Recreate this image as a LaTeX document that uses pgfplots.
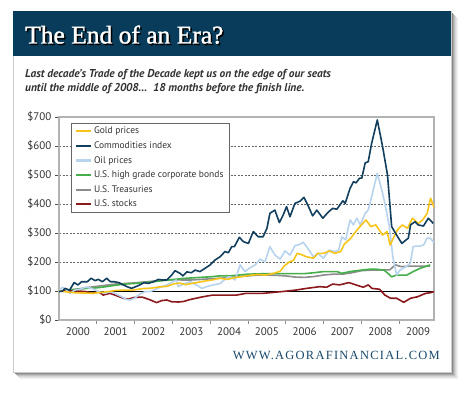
\documentclass[border=0pt]{standalone}
\usepackage{fontspec}
\setmainfont{Liberation Serif}
\newfontfamily\myriad{PT Sans}
\newfontfamily\titlefont[FakeBold=1.3]{Liberation Serif}
\usepackage{pgfplots}
\pgfplotsset{compat=1.18}
\definecolor{navy}{HTML}{083C5A}
\definecolor{goldc}{HTML}{F7C51A}
\definecolor{commc}{HTML}{123F5E}
\definecolor{oilc}{HTML}{B7D3EE}
\definecolor{bondc}{HTML}{46AE4A}
\definecolor{treasc}{HTML}{8C8C8C}
\definecolor{stockc}{HTML}{8C1A1C}
\definecolor{txtc}{HTML}{333333}
\definecolor{urlc}{HTML}{1B4A6B}
\begin{document}
\begin{tikzpicture}
\path[use as bounding box] (0,0) rectangle (470pt,393pt);
\fill[white] (0,0) rectangle (470pt,393pt);
% shadow
\foreach \o/\c in {7/6,6/10,5/16,4/24,3/34,2/46}{
  \fill[black!\c] (13pt+\o pt,21pt-\o pt) rectangle (451pt+\o pt,382pt-\o pt);
}
\fill[white] (13pt,21pt) rectangle (451pt,382pt);
\draw[black!20,line width=0.6pt] (13pt,21pt) rectangle (451pt,382pt);
\fill[navy] (13pt,337pt) rectangle (451pt,382pt);
\node[anchor=base west,inner sep=0pt,text=black] at (26.5pt,348pt) {\titlefont\fontsize{25.5}{26}\selectfont The End of an Era?};
\node[anchor=base west,inner sep=0pt,text=white] at (25pt,349.5pt) {\titlefont\fontsize{25.5}{26}\selectfont The End of an Era?};
\node[anchor=base west,inner sep=0pt,text=txtc,align=left] at (25pt,315pt) {\myriad\bfseries\itshape\fontsize{11.4}{13.5}\selectfont Last decade’s Trade of the Decade kept us on the edge of our seats};
\node[anchor=base west,inner sep=0pt,text=txtc,align=left] at (25pt,301.5pt) {\myriad\bfseries\itshape\fontsize{11.4}{13.5}\selectfont until the middle of 2008\dots\ \ 18 months before the finish line.};
\node[anchor=base east,inner sep=0pt,text=urlc] at (440pt,34pt) {\addfontfeatures{LetterSpace=10}\fontsize{12.5}{12.5}\selectfont WWW.AGORAFINANCIAL.COM};
\begin{axis}[
  at={(59pt,73pt)}, anchor=south west,
  scale only axis, width=375pt, height=203pt,
  xmin=2000, xmax=2009.92, ymin=0, ymax=700,
  axis line style={draw=black!30, line width=1.4pt},
  ytick={0,100,...,700},
  yticklabels={\$0,\$100,\$200,\$300,\$400,\$500,\$600,\$700},
  xtick={2000.5,2001.5,...,2009.5},
  xticklabels={2000,2001,2002,2003,2004,2005,2006,2007,2008,2009},
  minor xtick={2001,2002,...,2009},
  tick align=outside, tick pos=left,
  major tick length=4pt, minor tick length=4pt,
  major x tick style={draw=none},
  minor x tick style={draw=black!45, line width=0.8pt},
  major y tick style={draw=black!70, line width=0.6pt},
  ymajorgrids, grid style={black!60, line width=0.5pt, dash pattern=on 2pt off 1.5pt},
  ticklabel style={font=\myriad\fontsize{11}{11}\selectfont, text=txtc},
  /pgf/number format/assume math mode=true,
  legend style={at={(0.032,0.97)}, anchor=north west, draw=black!60, line width=0.6pt,
    font=\myriad\fontsize{9.5}{10}\selectfont, text=txtc, inner xsep=4pt, inner ysep=2pt,
    nodes={inner sep=1.5pt, text height=7pt, text depth=2pt}, row sep=2.6pt},
  legend cell align=left,
  legend image code/.code={\draw[#1,line width=2.2pt] (0pt,0pt) -- (15pt,0pt);},
  every axis plot/.append style={line width=1.6pt, line join=round},
]
\addplot[black, line width=0.7pt, forget plot] coordinates {(2000,100) (2009.92,100)};
\addplot[treasc, forget plot] coordinates {
(2000.00,100)(2000.25,103)(2000.50,107)(2000.75,112)(2001.00,116)(2001.25,120)(2001.50,124)(2001.75,126)
(2002.00,128)(2002.25,131)(2002.50,134)(2002.75,137)(2003.00,139)(2003.25,138)(2003.50,138)(2003.75,140)
(2004.00,142)(2004.25,144)(2004.50,146)(2004.75,150)(2005.00,152)(2005.25,155)(2005.50,155)(2005.75,154)
(2006.00,152)(2006.25,148)(2006.50,147)(2006.75,150)(2007.00,155)(2007.25,158)(2007.50,158)(2007.75,163)
(2008.00,170)(2008.25,172)(2008.50,172)(2008.75,173)(2008.90,190)(2009.05,184)(2009.30,186)(2009.82,186)};
\addplot[bondc, forget plot] coordinates {
(2000.00,100)(2000.25,103)(2000.50,106)(2000.75,109)(2001.00,111)(2001.25,115)(2001.50,120)(2001.75,124)
(2002.00,126)(2002.25,129)(2002.50,132)(2002.75,136)(2003.00,139)(2003.25,143)(2003.50,145)(2003.75,147)
(2004.00,149)(2004.25,152)(2004.50,152)(2004.75,155)(2005.00,158)(2005.25,159)(2005.50,160)(2005.75,160)
(2006.00,160)(2006.25,160)(2006.50,160)(2006.75,163)(2007.00,167)(2007.20,167)(2007.35,167)(2007.48,161)
(2007.70,167)(2008.00,172)(2008.20,175)(2008.40,175)(2008.60,172)(2008.70,161)(2008.80,149)(2008.93,155)
(2009.20,155)(2009.37,167)(2009.55,178)(2009.82,190)};
\addplot[stockc, forget plot] coordinates {
(2000.00,100)(2000.15,101)(2000.40,101)(2000.70,98)(2000.90,92)(2001.04,98)(2001.17,86)(2001.35,92)
(2001.52,84)(2001.70,75)(2001.83,72)(2002.00,78)(2002.20,79)(2002.40,70)(2002.58,60)(2002.72,67)
(2002.85,69)(2002.98,63)(2003.16,62)(2003.30,64)(2003.45,70)(2003.80,80)(2004.07,86)(2004.30,86)
(2004.70,86)(2004.95,92)(2005.40,92)(2005.90,98)(2006.25,103)(2006.55,109)(2006.90,115)(2007.08,113)
(2007.24,124)(2007.42,121)(2007.67,129)(2007.85,121)(2008.05,113)(2008.18,121)(2008.28,109)(2008.48,106)
(2008.62,86)(2008.77,75)(2008.93,75)(2009.12,61)(2009.30,75)(2009.48,80)(2009.70,92)(2009.82,94)(2009.92,98)};
\addplot[oilc, forget plot] coordinates {
(2000.00,100)(2000.09,113)(2000.20,103)(2000.29,92)(2000.42,103)(2000.56,106)(2000.70,113)(2000.87,109)
(2001.04,98)(2001.22,92)(2001.35,98)(2001.48,92)(2001.66,80)(2001.78,71)(2001.88,69)(2002.00,75)
(2002.14,90)(2002.28,98)(2002.41,98)(2002.56,106)(2002.72,115)(2002.85,121)(2003.02,132)(2003.10,138)
(2003.16,115)(2003.29,124)(2003.47,132)(2003.64,121)(2003.78,109)(2003.91,115)(2004.08,121)(2004.26,126)
(2004.44,145)(2004.52,150)(2004.66,138)(2004.79,190)(2004.92,167)(2005.05,180)(2005.19,190)(2005.32,210)
(2005.45,201)(2005.58,253)(2005.71,224)(2005.85,210)(2005.98,238)(2006.11,224)(2006.24,256)(2006.38,261)
(2006.46,268)(2006.55,253)(2006.73,218)(2006.85,230)(2006.99,213)(2007.15,241)(2007.30,236)(2007.40,241)
(2007.48,287)(2007.58,276)(2007.70,345)(2007.79,328)(2007.88,351)(2007.97,328)(2008.10,368)(2008.18,379)
(2008.27,425)(2008.42,506)(2008.54,448)(2008.62,402)(2008.74,322)(2008.83,218)(2008.93,155)(2009.02,172)
(2009.18,184)(2009.29,195)(2009.37,253)(2009.46,255)(2009.55,255)(2009.65,259)(2009.73,282)(2009.82,282)
(2009.92,267)};
\addplot[goldc, forget plot] coordinates {
(2000.00,100)(2000.20,97)(2000.40,94)(2000.65,93)(2000.90,92)(2001.10,95)(2001.30,98)(2001.50,102)
(2001.75,103)(2001.95,103)(2002.20,108)(2002.45,110)(2002.65,114)(2002.85,116)(2003.05,125)(2003.20,127)
(2003.35,122)(2003.60,128)(2003.85,134)(2004.05,138)(2004.25,144)(2004.45,140)(2004.65,146)(2004.85,150)
(2005.05,154)(2005.25,157)(2005.45,155)(2005.65,160)(2005.85,168)(2005.95,185)(2006.10,201)(2006.20,205)
(2006.30,230)(2006.40,226)(2006.55,218)(2006.73,213)(2006.85,230)(2007.00,230)(2007.15,238)(2007.30,230)
(2007.45,236)(2007.55,262)(2007.72,282)(2007.88,310)(2008.00,328)(2008.12,345)(2008.25,322)(2008.38,328)
(2008.56,293)(2008.68,305)(2008.76,258)(2008.86,287)(2008.95,310)(2009.08,328)(2009.22,316)(2009.35,351)
(2009.50,333)(2009.62,345)(2009.74,368)(2009.83,420)(2009.92,388)};
\addplot[commc, forget plot] coordinates {
(2000.00,98)(2000.10,100)(2000.16,109)(2000.28,103)(2000.40,129)(2000.50,121)(2000.60,132)(2000.75,132)
(2000.85,144)(2000.95,136)(2001.04,140)(2001.15,132)(2001.26,144)(2001.36,132)(2001.46,132)(2001.58,129)
(2001.70,121)(2001.80,115)(2001.92,109)(2002.03,115)(2002.14,121)(2002.25,129)(2002.36,126)(2002.50,132)
(2002.63,140)(2002.72,138)(2002.85,138)(2002.98,155)(2003.07,170)(2003.20,161)(2003.28,152)(2003.38,166)
(2003.50,163)(2003.60,172)(2003.73,167)(2003.86,178)(2004.00,190)(2004.13,207)(2004.26,218)(2004.39,236)
(2004.48,232)(2004.57,253)(2004.64,253)(2004.77,285)(2004.88,270)(2005.01,264)(2005.14,305)(2005.27,287)
(2005.40,287)(2005.50,316)(2005.58,368)(2005.71,379)(2005.83,336)(2005.93,362)(2006.02,391)(2006.11,356)
(2006.24,402)(2006.38,410)(2006.48,423)(2006.60,391)(2006.71,359)(2006.82,379)(2006.98,351)(2007.13,373)
(2007.24,385)(2007.35,382)(2007.51,411)(2007.57,402)(2007.70,454)(2007.79,477)(2007.86,473)(2007.95,489)
(2008.01,489)(2008.10,542)(2008.18,546)(2008.27,609)(2008.42,690)(2008.56,598)(2008.69,500)(2008.80,322)
(2008.93,293)(2009.07,264)(2009.18,276)(2009.24,282)(2009.30,328)(2009.42,339)(2009.50,328)(2009.64,324)
(2009.77,351)(2009.90,333)};
\addlegendimage{goldc}\addlegendentry{Gold prices}
\addlegendimage{commc}\addlegendentry{Commodities index}
\addlegendimage{oilc}\addlegendentry{Oil prices}
\addlegendimage{bondc}\addlegendentry{U.S. high grade corporate bonds}
\addlegendimage{treasc}\addlegendentry{U.S. Treasuries}
\addlegendimage{stockc}\addlegendentry{U.S. stocks}
\end{axis}
\end{tikzpicture}
\end{document}
